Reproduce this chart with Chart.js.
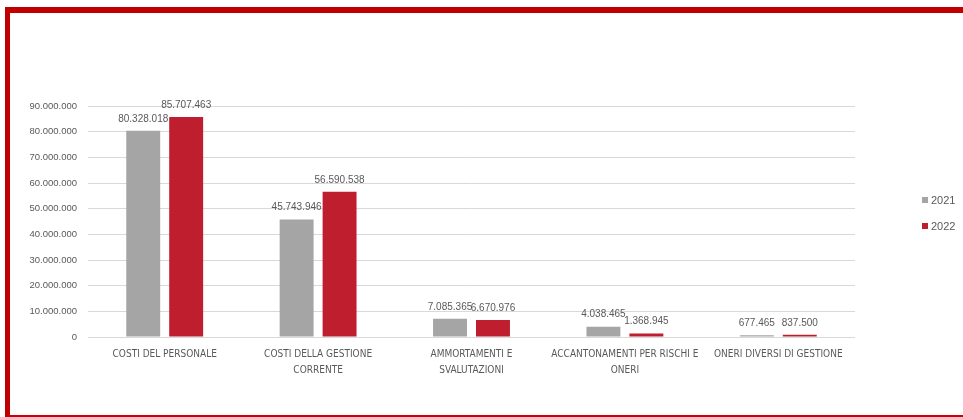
<!DOCTYPE html>
<html>
<head>
<meta charset="utf-8">
<script src="https://cdn.jsdelivr.net/npm/chart.js@4"></script>
<style>
  body { margin: 0; background: #fff; overflow: hidden; }
  #wrap { position: relative; width: 963px; height: 417px; }
  #frame {
    position: absolute; left: 5px; top: 7px; width: 1000px; height: 402px;
    border-top: 6px solid #c00000; border-left: 5px solid #c00000; border-bottom: 2px solid #d00000;
    pointer-events: none;
  }
  .leg { position: absolute; left: 922px; font: 11px "Liberation Sans", sans-serif; color: #595959; white-space: nowrap; }
  .leg span { display: inline-block; width: 6px; height: 6px; margin-right: 3px; vertical-align: 1px; }
</style>
</head>
<body>
<div id="wrap">
  <canvas id="chart" width="963" height="417"></canvas>
  <div id="frame"></div>
  <div class="leg" style="top:194px"><span style="background:#a5a5a5"></span>2021</div>
  <div class="leg" style="top:220px"><span style="background:#be1e2d"></span>2022</div>
</div>
<script>
// dati del grafico
const categorie = [
  ["COSTI DEL PERSONALE"],
  ["COSTI DELLA GESTIONE", "CORRENTE"],
  ["AMMORTAMENTI E", "SVALUTAZIONI"],
  ["ACCANTONAMENTI PER RISCHI E", "ONERI"],
  ["ONERI DIVERSI DI GESTIONE"]
];
const valori2021 = [80328018, 45743946, 7085365, 4038465, 677465];
const valori2022 = [85707463, 56590538, 6670976, 1368945, 837500];
const tickY = [0, 10000000, 20000000, 30000000, 40000000, 50000000, 60000000, 70000000, 80000000, 90000000];

// formato italiano con i punti delle migliaia
function formatta(n) {
  return String(Math.round(n)).replace(/\B(?=(\d{3})+(?!\d))/g, ".");
}

// etichette sopra le barre
const etichetteBarre = {
  id: "etichetteBarre",
  afterDatasetsDraw(chart) {
    const ctx = chart.ctx;
    ctx.save();
    ctx.font = '10px "Liberation Sans", sans-serif';
    ctx.fillStyle = "#595959";
    ctx.textAlign = "center";
    ctx.textBaseline = "middle";
    chart.data.datasets.forEach((ds, i) => {
      chart.getDatasetMeta(i).data.forEach((bar, j) => {
        ctx.fillText(formatta(ds.data[j]), bar.x, bar.y - 12);
      });
    });
    ctx.restore();
  }
};

new Chart(document.getElementById("chart"), {
  type: "bar",
  data: {
    labels: categorie,
    datasets: [
      { label: "2021", data: valori2021, backgroundColor: "#a5a5a5", categoryPercentage: 0.56, barPercentage: 0.79 },
      { label: "2022", data: valori2022, backgroundColor: "#be1e2d", categoryPercentage: 0.56, barPercentage: 0.79 }
    ]
  },
  options: {
    responsive: false,
    animation: false,
    layout: { padding: { top: 106, right: 108, left: 0, bottom: 0 } },
    plugins: { legend: { display: false }, tooltip: { enabled: false } },
    scales: {
      x: {
        grid: { display: false, drawTicks: false },
        border: { display: false },
        ticks: {
          color: "#595959",
          font: { family: '"Liberation Sans Narrow", "DejaVu Sans Condensed", sans-serif', size: 10, lineHeight: 1.6 },
          padding: 9,
          maxRotation: 0,
          autoSkip: false
        },
        afterFit(scale) { scale.height = 80; }
      },
      y: {
        min: 0,
        max: 90000000,
        grid: { color: "#d9d9d9", drawTicks: false },
        border: { display: false },
        afterBuildTicks(scale) { scale.ticks = tickY.map(v => ({ value: v })); },
        ticks: {
          color: "#595959",
          font: { family: '"Liberation Sans", sans-serif', size: 9.5 },
          padding: 11,
          callback: v => formatta(v)
        },
        afterFit(scale) { scale.width = 88; }
      }
    }
  },
  plugins: [etichetteBarre]
});
</script>
</body>
</html>
